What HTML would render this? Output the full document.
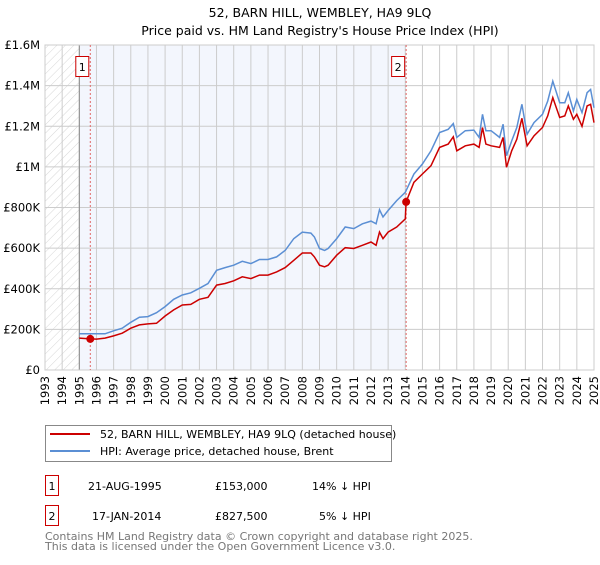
<!DOCTYPE html>
<html><head><meta charset="utf-8"><style>
body{margin:0;background:#fff;font-family:"Liberation Sans","DejaVu Sans",sans-serif;}
svg text{font-family:"DejaVu Sans","Liberation Sans",sans-serif;}
</style></head><body>
<svg id="chart" width="600" height="560" viewBox="0 0 600 560">
<defs><pattern id="hatch" width="6" height="6" patternUnits="userSpaceOnUse" patternTransform="rotate(45)"><line x1="0" y1="0" x2="0" y2="6" stroke="#ccc" stroke-width="0.8"/></pattern></defs>
<text x="320" y="17" text-anchor="middle" font-size="12.5" fill="#000">52, BARN HILL, WEMBLEY, HA9 9LQ</text>
<text x="320" y="35" text-anchor="middle" font-size="12.5" fill="#000">Price paid vs. HM Land Registry's House Price Index (HPI)</text>
<g id="plot"></g>
<g>
<rect x="45.5" y="425.5" width="346" height="36" fill="#fff" stroke="#888"/>
<line x1="50" y1="434" x2="90" y2="434" stroke="#cc0000" stroke-width="2"/>
<text x="100" y="438" font-size="11">52, BARN HILL, WEMBLEY, HA9 9LQ (detached house)</text>
<line x1="50" y1="451" x2="90" y2="451" stroke="#5b8fd4" stroke-width="2"/>
<text x="100" y="455" font-size="11">HPI: Average price, detached house, Brent</text>
</g>
<g font-size="11">
<rect x="45.5" y="475.5" width="13" height="20" fill="#fff" stroke="#cc0000"/>
<text x="52" y="490" text-anchor="middle">1</text>
<text x="88" y="490">21-AUG-1995</text>
<text x="215" y="490">£153,000</text>
<text x="312" y="490">14% ↓ HPI</text>
<rect x="45.5" y="505.5" width="13" height="20" fill="#fff" stroke="#cc0000"/>
<text x="52" y="520" text-anchor="middle">2</text>
<text x="92" y="520">17-JAN-2014</text>
<text x="215" y="520">£827,500</text>
<text x="319" y="520">5% ↓ HPI</text>
</g>
<text x="45" y="540" font-size="11" fill="#777">Contains HM Land Registry data © Crown copyright and database right 2025.</text>
<text x="45" y="550" font-size="11" fill="#777">This data is licensed under the Open Government Licence v3.0.</text>
</svg>
<script>
const hpiDates=[1995.0,1996.0,1996.5,1997,1997.5,1998,1998.5,1999,1999.5,2000,2000.5,2001,2001.5,2002,2002.5,2003,2003.5,2004,2004.5,2005,2005.5,2006,2006.5,2007,2007.5,2008,2008.5,2008.7,2009,2009.3,2009.5,2010,2010.5,2011,2011.5,2012,2012.3,2012.5,2012.7,2013,2013.5,2014,2014.5,2015,2015.5,2016,2016.5,2016.8,2017,2017.5,2018,2018.3,2018.5,2018.7,2019,2019.5,2019.7,2019.9,2020.2,2020.5,2020.8,2021.1,2021.5,2022,2022.3,2022.6,2023,2023.3,2023.5,2023.8,2024,2024.3,2024.6,2024.8,2025];
const hpiValues=[178,178,178,193,206,235,260,263,282,312,348,369,380,402,426,491,504,516,535,524,544,544,557,589,647,679,674,655,598,589,598,647,704,696,720,733,720,789,753,785,834,875,965,1014,1079,1169,1185,1213,1145,1178,1181,1145,1259,1178,1178,1145,1210,1055,1128,1194,1308,1161,1218,1259,1324,1422,1316,1316,1365,1275,1332,1267,1365,1381,1291];
const priceDates=[1995.0,1995.64,1996,1996.5,1997,1997.5,1998,1998.5,1999,1999.5,2000,2000.5,2001,2001.5,2002,2002.5,2003,2003.5,2004,2004.5,2005,2005.5,2006,2006.5,2007,2007.5,2008,2008.5,2008.7,2009,2009.3,2009.5,2010,2010.5,2011,2011.5,2012,2012.3,2012.5,2012.7,2013,2013.5,2014.0,2014.05,2014.5,2015,2015.5,2016,2016.5,2016.8,2017,2017.5,2018,2018.3,2018.5,2018.7,2019,2019.5,2019.7,2019.9,2020.2,2020.5,2020.8,2021.1,2021.5,2022,2022.3,2022.6,2023,2023.3,2023.5,2023.8,2024,2024.3,2024.6,2024.8,2025];
const priceValues=[157,153,152,157,168,181,206,222,227,230,266,296,320,323,348,358,418,426,439,459,450,467,467,483,504,540,576,576,557,516,508,516,565,602,598,614,630,614,679,647,679,704,744,827.5,924,965,1006,1096,1112,1148,1079,1104,1112,1096,1194,1112,1104,1096,1145,998,1079,1136,1239,1104,1153,1194,1251,1341,1243,1251,1300,1234,1259,1200,1300,1308,1218];
const saleDates=[1995.64,2014.05];
const saleValues=[153,827.5];
const saleLabels=["1","2"];
const yTicks=[0,200,400,600,800,1000,1200,1400,1600];
const yTickLabels=["£0","£200K","£400K","£600K","£800K","£1M","£1.2M","£1.4M","£1.6M"];
const years=[];for(let y=1993;y<=2025;y++)years.push(y);

const L=45,R=594,T=45,B=370,x0=1993,x1=2025,yMax=1600;
const X=d=>L+(d-x0)/(x1-x0)*(R-L);
const Y=v=>B-v/yMax*(B-T);
const NS="http://www.w3.org/2000/svg";
const g=document.getElementById('plot');
function mk(tag,attrs,parent){const e=document.createElementNS(NS,tag);for(const k in attrs)e.setAttribute(k,attrs[k]);(parent||g).appendChild(e);return e;}
let e;
e=mk('rect',{x:L,y:T,width:R-L,height:B-T,fill:'#fff'});


e=mk('rect',{x:X(1995),y:T,width:X(saleDates[1])-X(1995),height:B-T,fill:'#f3f6fd'});


e=mk('rect',{x:L,y:T,width:X(1995)-L,height:B-T,fill:'url(#hatch)'});


years.forEach(y=>{
 e=mk('line',{x1:X(y),x2:X(y),y1:T,y2:B,stroke:'#ccc','stroke-width':1});
 
 
 e=mk('text',{x:0,y:0,transform:`translate(${X(y)+4},${B+6}) rotate(-90)`,'text-anchor':'end','font-size':11.5,fill:'#000'});
 e.textContent=y;
 
 
});
yTicks.forEach((v,i)=>{
 e=mk('line',{x1:L,x2:R,y1:Y(v),y2:Y(v),stroke:'#ccc','stroke-width':1});
 
 
 e=mk('text',{x:L-5,y:Y(v)+4,'text-anchor':'end','font-size':11.5,fill:'#000'});
 e.textContent=yTickLabels[i];
 
 
});
e=mk('line',{x1:X(1995),x2:X(1995),y1:T,y2:B,stroke:'#888','stroke-width':1});


e=mk('rect',{x:L,y:T,width:R-L,height:B-T,fill:'none',stroke:'#ccc'});


saleDates.forEach((d,i)=>{
 e=mk('line',{x1:X(d),x2:X(d),y1:T,y2:B,stroke:'#e06666','stroke-width':1,'stroke-dasharray':'2,2'});
 
 
 e=mk('rect',{x:X(d)-14.5,y:56.5,width:13,height:20,fill:'#fff',stroke:'#cc0000'});
 
 
 e=mk('text',{x:X(d)-8,y:71,'text-anchor':'middle','font-size':11});
 e.textContent=saleLabels[i];
 
 
});
e=mk('path',{d:hpiDates.map((d,i)=>(i?'L':'M')+X(d).toFixed(1)+' '+Y(hpiValues[i]).toFixed(1)).join(''),fill:'none',stroke:'#5b8fd4','stroke-width':1.5});


e=mk('path',{d:priceDates.map((d,i)=>(i?'L':'M')+X(d).toFixed(1)+' '+Y(priceValues[i]).toFixed(1)).join(''),fill:'none',stroke:'#cc0000','stroke-width':1.5});


saleDates.forEach((d,i)=>{
 e=mk('circle',{cx:X(d),cy:Y(saleValues[i]),r:4,fill:'#cc0000'});
 
 
});
</script>
</body></html>
